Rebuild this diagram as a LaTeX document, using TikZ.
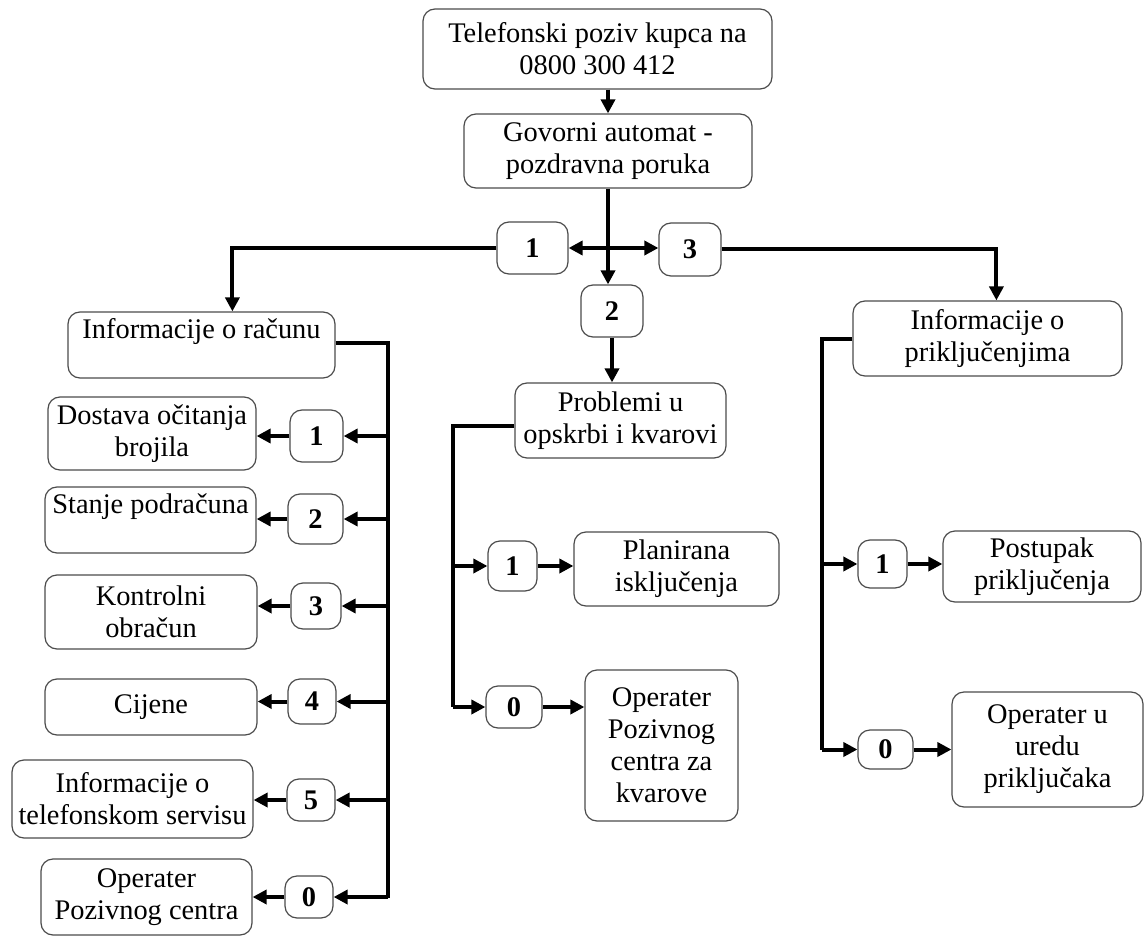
\documentclass[tikz,border=0pt]{standalone}
\usepackage{fontspec}
\setmainfont{Liberation Serif}
\usetikzlibrary{arrows.meta,calc}
\newcommand\bx[7]{\node[#1, minimum width={(#4-#2)*0.5pt}, minimum height={(#5-#3)*0.5pt}] (#6) at ({(#2+#4)/2},{(#3+#5)/2}) {#7};}
\begin{document}
\begin{tikzpicture}[x=0.5pt,y=-0.5pt,
  box/.style={draw=black!70, line width=0.6pt, rounded corners=6pt, inner sep=0pt, align=center, font=\fontsize{14.2}{16}\selectfont},
  num/.style={box, font=\fontsize{14.2}{16}\selectfont\bfseries},
  link/.style={line width=2pt},
  arr/.style={line width=2pt, -{Triangle[length=7pt,width=7pt]}}]
\fill[white] (0,0) rectangle (1145,936);
\useasboundingbox (0,0) rectangle (1145,936);

% top
\bx{box}{423}{9}{772}{89}{top}{Telefonski poziv kupca na\\0800 300 412}
\bx{box}{464}{114}{752}{188}{gov}{Govorni automat -\\pozdravna poruka}
\bx{num}{497}{222}{568}{274}{n1}{1}
\bx{num}{581}{285}{643}{337}{n2}{2}
\bx{num}{659}{223}{721}{276}{n3}{3}

% left column
\bx{box}{68}{312}{335}{378}{ir}{Informacije o računu\\\mbox{}}
\bx{box}{48}{397}{256}{470}{dost}{Dostava očitanja\\brojila}
\bx{box}{45}{487}{256}{553}{stan}{Stanje podračuna\\\mbox{}}
\bx{box}{45}{575}{257}{649}{kont}{Kontrolni\\obračun}
\bx{box}{45}{679}{257}{735}{cij}{Cijene}
\bx{box}{12}{760}{253}{838}{tel}{Informacije o\\telefonskom servisu}
\bx{box}{41}{859}{252}{935}{opc}{Operater\\Pozivnog centra}
\bx{num}{290}{410}{343}{462}{L1}{1}
\bx{num}{288}{494}{343}{544}{L2}{2}
\bx{num}{291}{583}{341}{629}{L3}{3}
\bx{num}{288}{679}{336}{724}{L4}{4}
\bx{num}{287}{779}{335}{821}{L5}{5}
\bx{num}{285}{876}{333}{918}{L0}{0}

% middle column
\bx{box}{515}{383}{726}{458}{prob}{Problemi u\\opskrbi i kvarovi}
\bx{num}{488}{541}{537}{591}{M1}{1}
\bx{num}{486}{686}{542}{728}{M0}{0}
\bx{box}{574}{532}{779}{606}{plan}{Planirana\\isključenja}
\bx{box}{585}{670}{738}{821}{opk}{Operater\\Pozivnog\\centra za\\kvarove}

% right column
\bx{box}{853}{301}{1122}{376}{ip}{Informacije o\\priključenjima}
\bx{num}{858}{540}{907}{588}{R1}{1}
\bx{num}{858}{730}{913}{769}{R0}{0}
\bx{box}{943}{531}{1141}{602}{post}{Postupak\\priključenja}
\bx{box}{952}{692}{1143}{807}{opu}{Operater u\\uredu\\priključaka}

% trunk coordinates
\coordinate (J) at (608,248);
\coordinate (LT) at (388,898);
\coordinate (MT) at (453,708);
\coordinate (RT) at (822,752);

% top connectors
\draw[arr] (gov.north |- top.south) -- (gov.north);
\draw[arr] (gov.south) -- (gov.south |- n2.north);
\draw[arr] (J) -- (n1.east);
\draw[arr] (J) -- (J -| n3.west);
\draw[arr] (n1.west) -| ($(ir.north west)+(165,0)$);
\draw[arr] (n3.east) -| ($(ip.north west)+(144,0)$);
\draw[arr] (n2.south) -- (n2.south |- prob.north);

% left trunk
\draw[link] ($(ir.east)+(0,-2)$) -| (LT);
\foreach \n/\t in {L1/dost,L2/stan,L3/kont,L4/cij,L5/tel,L0/opc}{
  \draw[arr] (LT |- \n.east) -- (\n.east);
  \draw[arr] (\n.west) -- (\n.west -| \t.east);
}

% middle trunk
\draw[link] ($(prob.west)+(0,5)$) -| (MT |- M0.west);
\draw[arr] (MT |- M1.west) -- (M1.west);
\draw[arr] (MT |- M0.west) -- (M0.west);
\draw[arr] (M1.east) -- (M1.east -| plan.west);
\draw[arr] (M0.east) -- (M0.east -| opk.west);

% right trunk
\draw[link] (ip.west) -| (RT |- R0.west);
\draw[arr] (RT |- R1.west) -- (R1.west);
\draw[arr] (RT |- R0.west) -- (R0.west);
\draw[arr] (R1.east) -- (R1.east -| post.west);
\draw[arr] (R0.east) -- (R0.east -| opu.west);
\end{tikzpicture}
\end{document}
